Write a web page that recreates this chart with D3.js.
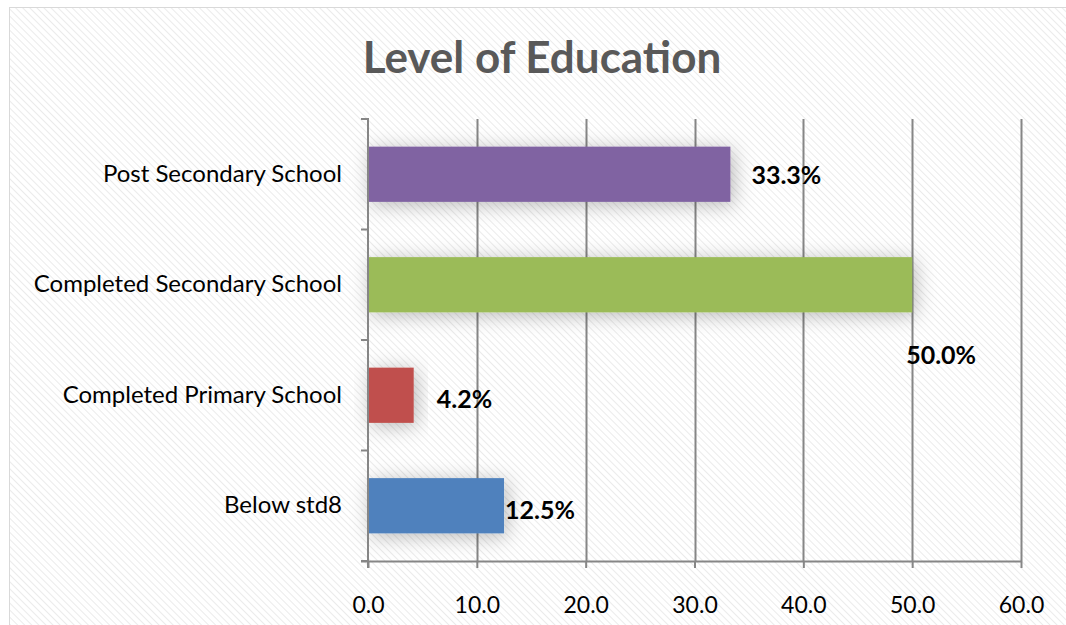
<!DOCTYPE html>
<html>
<head>
<meta charset="utf-8">
<script src="https://cdn.jsdelivr.net/npm/d3@7"></script>
<style>
  html, body { margin: 0; padding: 0; background: #ffffff; }
  svg { display: block; }
  text { font-family: Lato, "Open Sans", sans-serif; }
</style>
</head>
<body>
<svg id="chart" width="1066" height="625"></svg>
<script>
// Education level shares (percent)
const categories = ["Below std8", "Completed Primary School", "Completed Secondary School", "Post Secondary School"];
const values = [12.5, 4.2, 50.0, 33.3];
const barColors = ["#4f81bd", "#c0504d", "#9bbb59", "#8064a2"];
const xTicks = [0, 10, 20, 30, 40, 50, 60];
const titleText = "Level of Education";
// label nudges (px) relative to the end of each bar
const labelNudge = [[1, 4], [23, 4], [-6, 70], [21, 1]];

const svg = d3.select("#chart");
const W = 1066, H = 625;
const margin = { left: 368, right: 45, top: 119, bottom: 64 };

const defs = svg.append("defs");
const pat = defs.append("pattern")
  .attr("id", "hatch").attr("width", 5).attr("height", 5)
  .attr("patternUnits", "userSpaceOnUse")
  .attr("patternTransform", "rotate(-45)");
pat.append("rect").attr("width", 5).attr("height", 5).attr("fill", "#ffffff");
pat.append("line").attr("x1", 0).attr("y1", 0).attr("x2", 0).attr("y2", 5)
  .attr("stroke", "#ebebeb").attr("stroke-width", 2);

const shadow = defs.append("filter").attr("id", "glow")
  .attr("x", "-30%").attr("y", "-80%").attr("width", "160%").attr("height", "260%");
shadow.append("feDropShadow").attr("dx", 3).attr("dy", 3)
  .attr("stdDeviation", 10).attr("flood-color", "#000").attr("flood-opacity", 0.28);

// chart area background and frame
svg.append("rect").attr("x", 0).attr("y", 0).attr("width", W).attr("height", H).attr("fill", "#ffffff");
svg.append("rect").attr("x", 9.5).attr("y", 7.5).attr("width", W - 9).attr("height", H - 7)
  .attr("fill", "url(#hatch)").attr("stroke", "#d9d9d9").attr("stroke-width", 1);

const x = d3.scaleLinear().domain([0, 60]).range([margin.left, W - margin.right]);
const y = d3.scaleBand().domain(d3.range(categories.length).reverse())
  .range([margin.top, H - margin.bottom]).paddingInner(0.5).paddingOuter(0.25);
const yb = d3.scaleBand().domain(d3.range(categories.length).reverse())
  .range([margin.top, H - margin.bottom]);

// vertical gridlines
svg.append("g").selectAll("line").data(xTicks.slice(1)).join("line")
  .attr("x1", d => Math.round(x(d)) + 0.5).attr("x2", d => Math.round(x(d)) + 0.5)
  .attr("y1", margin.top).attr("y2", H - margin.bottom)
  .attr("stroke", "#868686").attr("stroke-width", 2);

// bars
svg.append("g").selectAll("rect").data(values).join("rect")
  .attr("x", x(0)).attr("y", (d, i) => y(i))
  .attr("width", d => x(d) - x(0)).attr("height", y.bandwidth())
  .attr("fill", (d, i) => barColors[i]).attr("filter", "url(#glow)");

// x axis
const xAxis = svg.append("g").attr("transform", `translate(0,${H - margin.bottom})`)
  .call(d3.axisBottom(x).tickValues(xTicks).tickFormat(d3.format(".1f")).tickSizeInner(7).tickSizeOuter(0).tickPadding(29));
xAxis.select(".domain").attr("stroke", "#868686").attr("stroke-width", 2)
  .attr("d", `M${x(0) - 7},0.5H${x(60)}`);
xAxis.selectAll(".tick line").attr("stroke", "#868686").attr("stroke-width", 2);
xAxis.selectAll(".tick text").attr("font-size", 23).attr("fill", "#000");

// y axis
const yAxis = svg.append("g").attr("transform", `translate(${x(0)},0)`)
  .call(d3.axisLeft(yb).tickFormat(i => categories[i]).tickSize(0).tickPadding(26));
yAxis.select(".domain").attr("stroke", "#868686").attr("stroke-width", 2)
  .attr("d", `M-7,${margin.top}H0V${H - margin.bottom + 7}`);
yAxis.selectAll(".tick text").attr("font-size", 24).attr("fill", "#000");
yAxis.append("g").selectAll("line").data(d3.range(categories.length + 1)).join("line")
  .attr("x1", -7).attr("x2", 0)
  .attr("y1", i => margin.top + i * yb.step()).attr("y2", i => margin.top + i * yb.step())
  .attr("stroke", "#868686").attr("stroke-width", 2);

// value labels
svg.append("g").selectAll("text").data(values).join("text")
  .attr("x", (d, i) => x(d) + labelNudge[i][0])
  .attr("y", (d, i) => y(i) + y.bandwidth() / 2 + labelNudge[i][1])
  .attr("dy", "0.35em")
  .attr("font-size", 25).attr("font-weight", "bold").attr("fill", "#000")
  .text(d => d3.format(".1f")(d) + "%");

// title
svg.append("text").attr("x", 542).attr("y", 73).attr("text-anchor", "middle")
  .attr("font-size", 44).attr("font-weight", "bold").attr("fill", "#595959")
  .text(titleText);
</script>
</body>
</html>
